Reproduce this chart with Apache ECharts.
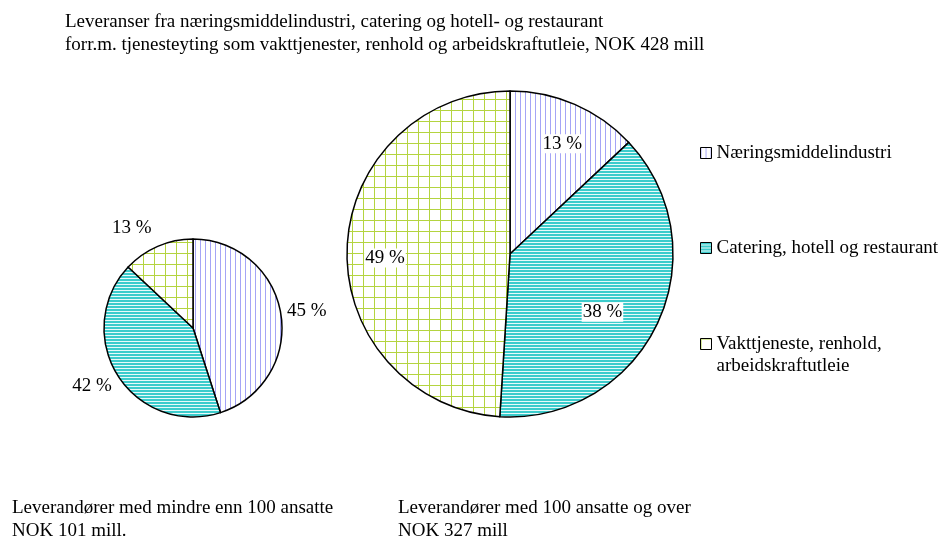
<!DOCTYPE html>
<html>
<head>
<meta charset="utf-8">
<script src="https://cdn.jsdelivr.net/npm/echarts@6/dist/echarts.min.js"></script>
<style>
html, body { margin: 0; padding: 0; background: #fff; }
#chart { width: 942px; height: 538px; }
</style>
</head>
<body>
<div id="chart"></div>
<script>
// categories (same order in both pies, clockwise from 12 o'clock)
const categories = ['Næringsmiddelindustri', 'Catering, hotell og restaurant', 'Vakttjeneste, renhold, arbeidskraftutleie'];
const legendText = ['Næringsmiddelindustri', 'Catering, hotell og restaurant', '\u00a0\nVakttjeneste, renhold,\narbeidskraftutleie'];
// shares in percent
const smallShares = [45, 42, 13];   // leverandører < 100 ansatte
const largeShares = [13, 38, 49];   // leverandører >= 100 ansatte
const titleText = 'Leveranser fra næringsmiddelindustri, catering og hotell- og restaurant\nforr.m. tjenesteyting som vakttjenester, renhold og arbeidskraftutleie, NOK 428 mill';
const smallCaption = 'Leverandører med mindre enn 100 ansatte\nNOK 101 mill.';
const largeCaption = 'Leverandører med 100 ansatte og over\nNOK 327 mill';

const font = '"Liberation Serif", "Times New Roman", serif';
const fontSize = 19;

// label placement tweaks (px nudges for small pie, radius fraction + nudge for big pie)
const smallLabelNudge = [[0, -3], [0, 10], [0, -18]];
const bigLabelRadius = [0.75, 0.67, 0.77];
const bigLabelNudge = [[2, 6], [-10, 10], [5, 8]];
const bigCenter = [510, 254];

function makePattern(kind) {
  let c = document.createElement('canvas');
  let ctx;
  if (kind == 'vert') {
    c.width = 5; c.height = 4;
    ctx = c.getContext('2d');
    ctx.fillStyle = '#fff'; ctx.fillRect(0, 0, 5, 4);
    ctx.fillStyle = '#a4a4f6'; ctx.fillRect(0, 0, 1, 4);
  } else if (kind == 'horiz') {
    c.width = 4; c.height = 3;
    ctx = c.getContext('2d');
    ctx.fillStyle = '#3ccccc'; ctx.fillRect(0, 0, 4, 3);
    ctx.fillStyle = '#e8fafa'; ctx.fillRect(0, 2, 4, 1);
  } else {
    c.width = 11; c.height = 11;
    ctx = c.getContext('2d');
    ctx.fillStyle = '#fff'; ctx.fillRect(0, 0, 11, 11);
    ctx.fillStyle = '#b4d440';
    ctx.fillRect(0, 0, 1, 11);
    ctx.fillRect(0, 0, 11, 1);
  }
  return { image: c, repeat: 'repeat' };
}

const fills = [makePattern('vert'), makePattern('horiz'), makePattern('grid')];

function buildData(values) {
  return values.map(function (v, i) {
    return { name: categories[i], value: v, itemStyle: { color: fills[i] } };
  });
}

const legendTops = [142, 237, 311];
const legends = categories.map(function (name, i) {
  return {
    orient: 'vertical',
    left: 700,
    top: legendTops[i],
    padding: 0,
    data: [name],
    icon: 'rect',
    itemWidth: 11,
    itemHeight: 11,
    selectedMode: false,
    itemStyle: { borderColor: '#000', borderWidth: 1 },
    formatter: function () { return legendText[i]; },
    textStyle: { fontFamily: font, fontSize: fontSize, color: '#000', lineHeight: 22 }
  };
});

const textStyle = { fontFamily: font, fontSize: fontSize, fontWeight: 'normal', color: '#000', lineHeight: 23 };

const chart = echarts.init(document.getElementById('chart'), null, { renderer: 'canvas' });

const option = {
  backgroundColor: '#fff',
  animation: false,
  title: [
    { text: titleText, left: 65, top: 11, padding: 0, textStyle: textStyle },
    { text: smallCaption, left: 12, top: 497, padding: 0, textStyle: textStyle },
    { text: largeCaption, left: 398, top: 497, padding: 0, textStyle: textStyle }
  ],
  legend: legends,
  series: [
    {
      type: 'pie',
      center: [193, 328],
      radius: 89,
      startAngle: 90,
      clockwise: true,
      avoidLabelOverlap: false,
      data: buildData(smallShares),
      itemStyle: { borderColor: '#000', borderWidth: 1.5 },
      emphasis: { disabled: true },
      label: {
        position: 'outside',
        formatter: '{c} %',
        fontFamily: font, fontSize: fontSize, color: '#000'
      },
      labelLine: { show: false, length: 0, length2: 1 },
      labelLayout: function (p) {
        const n = smallLabelNudge[p.dataIndex];
        return { dx: n[0], dy: n[1] };
      }
    },
    {
      type: 'pie',
      center: bigCenter,
      radius: 163,
      startAngle: 90,
      clockwise: true,
      data: buildData(largeShares),
      itemStyle: { borderColor: '#000', borderWidth: 1.5 },
      emphasis: { disabled: true },
      label: {
        position: 'inside',
        formatter: '{c} %',
        fontFamily: font, fontSize: fontSize, color: '#000',
        backgroundColor: '#fff', padding: [0, 1]
      },
      labelLine: { show: false },
      labelLayout: function (p) {
        const r = p.labelRect;
        const lx = r.x + r.width / 2 - bigCenter[0];
        const ly = r.y + r.height / 2 - bigCenter[1];
        const k = bigLabelRadius[p.dataIndex] / 0.5 - 1;
        const n = bigLabelNudge[p.dataIndex];
        return { dx: lx * k + n[0], dy: ly * k + n[1] };
      }
    }
  ]
};

chart.setOption(option);
window.addEventListener('resize', chart.resize);
</script>
</body>
</html>
